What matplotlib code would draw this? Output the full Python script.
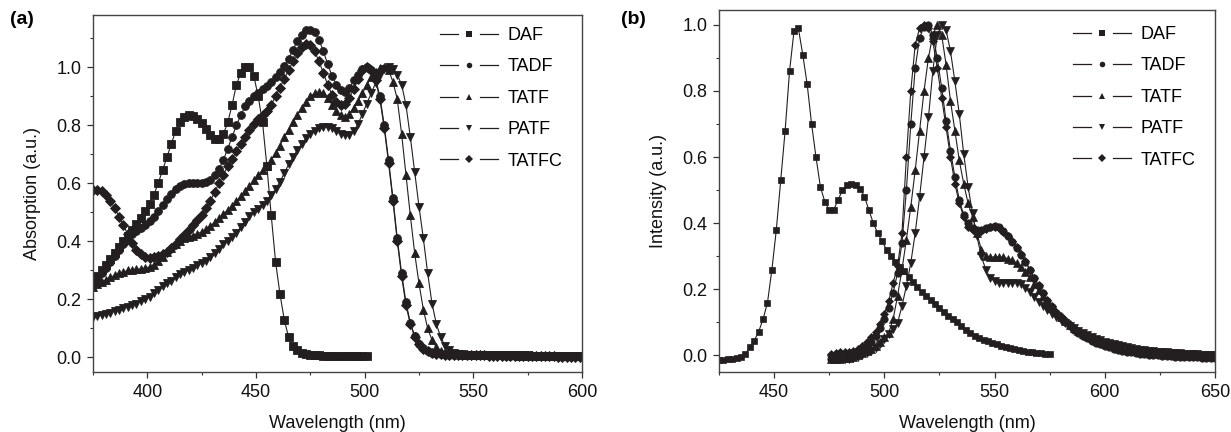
import numpy as np
import matplotlib
matplotlib.use("Agg")
import matplotlib.pyplot as plt
from matplotlib.lines import Line2D
from matplotlib.legend_handler import HandlerBase
from matplotlib.ticker import MultipleLocator

plt.rcParams['font.family'] = ['Liberation Sans', 'DejaVu Sans']

# ---------------- data: absorption (panel a) ----------------
abs_wl = np.arange(375, 600, 2)          # 375 ... 599
abs_wl_daf = np.arange(375, 502, 2)      # 375 ... 501

abs_daf = [
    0.265, 0.28, 0.30, 0.32, 0.34, 0.36, 0.38, 0.40, 0.42, 0.44,
    0.46, 0.48, 0.505, 0.53, 0.56, 0.60, 0.645, 0.69, 0.735, 0.78,
    0.81, 0.83, 0.835, 0.833, 0.823, 0.807, 0.787, 0.768, 0.753, 0.752,
    0.77, 0.81, 0.87, 0.94, 0.98, 1.0, 1.0, 0.97, 0.90, 0.81,
    0.66, 0.49, 0.33, 0.22, 0.13, 0.07, 0.04, 0.025, 0.016, 0.012,
    0.01, 0.008, 0.007, 0.006, 0.006, 0.005, 0.005, 0.005, 0.005, 0.004,
    0.004, 0.004, 0.004, 0.004]

abs_tadf = [
    0.25, 0.27, 0.29, 0.31, 0.33, 0.35, 0.37, 0.39, 0.41, 0.425,
    0.435, 0.445, 0.455, 0.47, 0.485, 0.505, 0.525, 0.545, 0.565, 0.58,
    0.59, 0.597, 0.60, 0.60, 0.60, 0.60, 0.603, 0.612, 0.628, 0.65,
    0.68, 0.72, 0.76, 0.80, 0.835, 0.865, 0.885, 0.90, 0.912, 0.925,
    0.935, 0.95, 0.965, 0.985, 1.005, 1.03, 1.06, 1.09, 1.11, 1.128,
    1.13, 1.12, 1.095, 1.055, 1.01, 0.97, 0.94, 0.92, 0.915, 0.93,
    0.955, 0.975, 0.993, 1.0, 0.99, 0.96, 0.90, 0.80, 0.68, 0.55,
    0.41, 0.29, 0.19, 0.12, 0.075, 0.048, 0.032, 0.022, 0.017, 0.014,
    0.012, 0.011, 0.010, 0.010, 0.009, 0.009, 0.009, 0.008, 0.008, 0.008,
    0.008, 0.007, 0.007, 0.007, 0.007, 0.006, 0.006, 0.006, 0.006, 0.006,
    0.005, 0.005, 0.005, 0.005, 0.005, 0.005, 0.004, 0.004, 0.004, 0.004,
    0.004, 0.004, 0.004]

abs_tatf = [
    0.244, 0.252, 0.26, 0.268, 0.276, 0.283, 0.29, 0.295, 0.30, 0.302,
    0.304, 0.306, 0.308, 0.312, 0.32, 0.332, 0.347, 0.362, 0.378, 0.392,
    0.403, 0.411, 0.416, 0.42, 0.426, 0.433, 0.442, 0.453, 0.466, 0.48,
    0.494, 0.508, 0.522, 0.538, 0.555, 0.572, 0.59, 0.61, 0.628, 0.645,
    0.66, 0.68, 0.705, 0.73, 0.76, 0.785, 0.81, 0.835, 0.86, 0.88,
    0.90, 0.91, 0.915, 0.91, 0.895, 0.87, 0.85, 0.835, 0.83, 0.84,
    0.86, 0.885, 0.91, 0.94, 0.965, 0.985, 0.998, 1.0, 0.99, 0.95,
    0.89, 0.77, 0.63, 0.49, 0.36, 0.255, 0.165, 0.10, 0.06, 0.035,
    0.024, 0.018, 0.014, 0.012, 0.011, 0.010, 0.010, 0.009, 0.009, 0.009,
    0.008, 0.008, 0.008, 0.008, 0.007, 0.007, 0.007, 0.007, 0.006, 0.006,
    0.006, 0.006, 0.006, 0.005, 0.005, 0.005, 0.005, 0.005, 0.005, 0.004,
    0.004, 0.004, 0.004]

abs_patf = [
    0.14, 0.143, 0.147, 0.15, 0.155, 0.16, 0.165, 0.17, 0.175, 0.18,
    0.186, 0.193, 0.20, 0.21, 0.222, 0.234, 0.245, 0.255, 0.265, 0.278,
    0.288, 0.295, 0.30, 0.31, 0.318, 0.325, 0.333, 0.345, 0.36, 0.375,
    0.39, 0.40, 0.415, 0.43, 0.45, 0.468, 0.486, 0.50, 0.513, 0.527,
    0.54, 0.56, 0.58, 0.605, 0.635, 0.665, 0.69, 0.715, 0.735, 0.755,
    0.77, 0.782, 0.79, 0.795, 0.795, 0.79, 0.78, 0.77, 0.765, 0.768,
    0.78, 0.805, 0.84, 0.875, 0.91, 0.945, 0.975, 0.993, 1.0, 0.995,
    0.975, 0.94, 0.87, 0.76, 0.64, 0.52, 0.41, 0.29, 0.185, 0.115,
    0.07, 0.04, 0.025, 0.017, 0.013, 0.011, 0.010, 0.010, 0.009, 0.009,
    0.009, 0.009, 0.008, 0.008, 0.008, 0.008, 0.007, 0.007, 0.007, 0.007,
    0.007, 0.006, 0.006, 0.006, 0.006, 0.006, 0.005, 0.005, 0.005, 0.005,
    0.005, 0.005, 0.005]

abs_tatfc = [
    0.577, 0.578, 0.573, 0.56, 0.54, 0.515, 0.485, 0.455, 0.425, 0.395,
    0.37, 0.355, 0.345, 0.342, 0.345, 0.35, 0.358, 0.365, 0.378, 0.392,
    0.407, 0.423, 0.44, 0.458, 0.475, 0.49, 0.515, 0.54, 0.57, 0.60,
    0.63, 0.66, 0.685, 0.71, 0.735, 0.76, 0.785, 0.805, 0.82, 0.835,
    0.85, 0.87, 0.90, 0.93, 0.96, 0.99, 1.02, 1.05, 1.07, 1.08,
    1.075, 1.055, 1.02, 0.98, 0.94, 0.905, 0.88, 0.87, 0.875, 0.895,
    0.925, 0.96, 0.99, 1.0, 0.99, 0.955, 0.89, 0.79, 0.67, 0.54,
    0.40, 0.28, 0.18, 0.115, 0.072, 0.045, 0.03, 0.021, 0.016, 0.013,
    0.011, 0.010, 0.009, 0.009, 0.008, 0.008, 0.008, 0.007, 0.007, 0.007,
    0.007, 0.006, 0.006, 0.006, 0.006, 0.005, 0.005, 0.005, 0.005, 0.005,
    0.005, 0.004, 0.004, 0.004, 0.004, 0.004, 0.004, 0.003, 0.003, 0.003,
    0.003, 0.003, 0.003]

# ---------------- data: emission (panel b) ----------------
em_wl_daf = np.arange(425, 576, 2)       # 425 ... 575
em_wl = np.arange(476, 651, 2)           # 476 ... 650

em_daf = [
    -0.013, -0.013, -0.012, -0.011, -0.009, -0.005, 0.005, 0.025, 0.045, 0.072,
    0.11, 0.16, 0.26, 0.38, 0.53, 0.68, 0.86, 0.98, 0.99, 0.91,
    0.82, 0.70, 0.60, 0.51, 0.465, 0.44, 0.44, 0.47, 0.50, 0.515,
    0.52, 0.517, 0.505, 0.48, 0.44, 0.40, 0.37, 0.345, 0.32, 0.30,
    0.283, 0.267, 0.254, 0.238, 0.222, 0.207, 0.193, 0.18, 0.167, 0.155,
    0.143, 0.131, 0.12, 0.11, 0.10, 0.09, 0.078, 0.067, 0.06, 0.054,
    0.048, 0.043, 0.038, 0.034, 0.03, 0.026, 0.023, 0.02, 0.016, 0.013,
    0.011, 0.009, 0.008, 0.006, 0.005, 0.004]

em_tadf = [
    -0.01, -0.01, -0.008, -0.006, -0.004, 0.0, 0.006, 0.015, 0.027, 0.042,
    0.06, 0.083, 0.11, 0.145, 0.19, 0.25, 0.34, 0.50, 0.70, 0.87,
    0.96, 0.995, 1.0, 0.97, 0.90, 0.81, 0.71, 0.62, 0.54, 0.47,
    0.425, 0.40, 0.385, 0.38, 0.38, 0.385, 0.39, 0.392, 0.388, 0.377,
    0.36, 0.342, 0.325, 0.305, 0.283, 0.258, 0.233, 0.21, 0.188, 0.166,
    0.146, 0.128, 0.114, 0.10, 0.088, 0.077, 0.068, 0.06, 0.052, 0.045,
    0.039, 0.034, 0.029, 0.025, 0.021, 0.017, 0.014, 0.011, 0.009, 0.007,
    0.005, 0.003, 0.002, 0.001, 0.0, -0.001, -0.002, -0.003, -0.004, -0.004,
    -0.005, -0.005, -0.006, -0.006, -0.007, -0.007, -0.008, -0.008]

em_tatf = [
    -0.01, -0.01, -0.01, -0.009, -0.007, -0.004, 0.0, 0.006, 0.013, 0.02,
    0.03, 0.042, 0.055, 0.068, 0.11, 0.18, 0.26, 0.35, 0.45, 0.56,
    0.68, 0.80, 0.90, 0.97, 1.0, 0.97, 0.88, 0.77, 0.68, 0.59,
    0.52, 0.46, 0.42, 0.37, 0.32, 0.30, 0.298, 0.298, 0.298, 0.297,
    0.293, 0.288, 0.28, 0.268, 0.253, 0.236, 0.217, 0.198, 0.18, 0.162,
    0.145, 0.13, 0.117, 0.104, 0.093, 0.083, 0.074, 0.066, 0.059, 0.052,
    0.046, 0.041, 0.036, 0.032, 0.028, 0.025, 0.022, 0.019, 0.017, 0.015,
    0.013, 0.011, 0.01, 0.009, 0.008, 0.007, 0.006, 0.005, 0.004, 0.004,
    0.003, 0.002, 0.002, 0.001, 0.001, 0.0, 0.0, -0.001]

em_patf = [
    -0.012, -0.012, -0.012, -0.011, -0.01, -0.008, -0.005, 0.0, 0.006, 0.013,
    0.022, 0.035, 0.05, 0.065, 0.08, 0.098, 0.15, 0.21, 0.28, 0.37,
    0.48, 0.60, 0.72, 0.86, 0.97, 1.0, 0.985, 0.92, 0.83, 0.73,
    0.61, 0.51, 0.43, 0.36, 0.30, 0.26, 0.235, 0.225, 0.22, 0.22,
    0.22, 0.22, 0.22, 0.215, 0.205, 0.192, 0.178, 0.163, 0.149, 0.137,
    0.126, 0.116, 0.107, 0.098, 0.09, 0.082, 0.075, 0.068, 0.062, 0.056,
    0.051, 0.046, 0.042, 0.038, 0.034, 0.031, 0.028, 0.025, 0.022, 0.02,
    0.018, 0.016, 0.014, 0.013, 0.011, 0.01, 0.009, 0.008, 0.007, 0.006,
    0.005, 0.004, 0.003, 0.003, 0.002, 0.001, 0.001, 0.0]

em_tatfc = [
    0.005, 0.008, 0.01, 0.01, 0.012, 0.015, 0.02, 0.028, 0.04, 0.055,
    0.072, 0.095, 0.125, 0.165, 0.22, 0.27, 0.37, 0.60, 0.80, 0.94,
    0.99, 1.0, 0.99, 0.95, 0.87, 0.78, 0.69, 0.60, 0.52, 0.46,
    0.42, 0.39, 0.38, 0.375, 0.378, 0.383, 0.388, 0.39, 0.385, 0.372,
    0.36, 0.345, 0.328, 0.308, 0.285, 0.26, 0.235, 0.212, 0.19, 0.168,
    0.149, 0.133, 0.12, 0.106, 0.094, 0.084, 0.075, 0.066, 0.058, 0.051,
    0.045, 0.04, 0.035, 0.03, 0.026, 0.022, 0.019, 0.016, 0.014, 0.012,
    0.01, 0.008, 0.007, 0.006, 0.005, 0.004, 0.003, 0.002, 0.002, 0.001,
    0.001, 0.0, 0.0, -0.001, -0.001, -0.002, -0.002, -0.003]

labels = ["DAF", "TADF", "TATF", "PATF", "TATFC"]
markers = ["s", "o", "^", "v", "D"]

C = "#231f20"
FS = 13


class GapLineHandler(HandlerBase):
    def create_artists(self, legend, orig_handle, xdescent, ydescent,
                       width, height, fontsize, trans):
        y = height / 2.0 - ydescent
        x0 = -xdescent
        mid = x0 + width / 2.0
        g = 0.19 * width
        l1 = Line2D([x0, mid - g], [y, y], color=C, lw=0.9)
        l2 = Line2D([mid + g, x0 + width], [y, y], color=C, lw=0.9)
        mk = Line2D([mid], [y], marker=orig_handle.get_marker(),
                    markersize=4.0, color=C, linestyle="none",
                    markeredgewidth=0)
        for a in (l1, l2, mk):
            a.set_transform(trans)
        return [l1, l2, mk]


fig = plt.figure(figsize=(12.31, 4.32), dpi=100)
W, H = 1231.0, 432.0
ax1 = fig.add_axes([93 / W, 60 / H, (582 - 93) / W, (372 - 15) / H])
ax2 = fig.add_axes([719 / W, 60 / H, (1215 - 719) / W, (372 - 10) / H])

abs_series = [(abs_wl_daf, abs_daf), (abs_wl, abs_tadf), (abs_wl, abs_tatf),
              (abs_wl, abs_patf), (abs_wl, abs_tatfc)]
em_series = [(em_wl_daf, em_daf), (em_wl, em_tadf), (em_wl, em_tatf),
             (em_wl, em_patf), (em_wl, em_tatfc)]

MS = {"s": 5.2, "o": 5.6, "^": 6.0, "v": 6.0, "D": 4.8}

handles = []
for (x, y), lab, m in zip(abs_series, labels, markers):
    h, = ax1.plot(x, y, color=C, lw=0.8, marker=m, markersize=MS[m],
                  markeredgewidth=0.6, markeredgecolor=C, label=lab)
    handles.append(h)
for (x, y), lab, m in zip(em_series, labels, markers):
    ax2.plot(x, y, color=C, lw=0.8, marker=m, markersize=MS[m] * 0.95,
             markeredgewidth=0.5, markeredgecolor=C, label=lab)

ax1.set_xlim(375, 600)
ax1.set_ylim(-0.05, 1.18)
ax2.set_xlim(425, 650)
ax2.set_ylim(-0.05, 1.045)

for ax in (ax1, ax2):
    ax.xaxis.set_major_locator(MultipleLocator(50))
    ax.xaxis.set_minor_locator(MultipleLocator(25))
    ax.yaxis.set_major_locator(MultipleLocator(0.2))
    ax.yaxis.set_minor_locator(MultipleLocator(0.1))
    ax.tick_params(which="both", direction="out", top=False, right=False,
                   color="#333333", labelsize=FS, labelcolor="#111111")
    ax.tick_params(which="major", length=4.5, width=0.9, pad=4)
    ax.tick_params(which="minor", length=2.5, width=0.8)
    for s in ax.spines.values():
        s.set_color("#444444")
        s.set_linewidth(1.0)
    ax.set_xlabel("Wavelength (nm)", fontsize=FS, labelpad=10, color="#111111")

ax1.set_ylabel("Absorption (a.u.)", fontsize=FS, labelpad=11, color="#111111")
ax2.set_ylabel("Intensity (a.u.)", fontsize=FS, labelpad=11, color="#111111")

hm = {Line2D: GapLineHandler()}
for ax, (lx, ly) in ((ax1, (440 / W, 1 - 27 / H)), (ax2, (1073 / W, 1 - 26 / H))):
    ax.legend(handles=handles, labels=labels, handler_map=hm, loc="upper left",
              bbox_to_anchor=(lx, ly), bbox_transform=fig.transFigure,
              frameon=False, fontsize=FS, handlelength=3.2,
              handletextpad=0.55, labelspacing=0.8, borderpad=0,
              borderaxespad=0)

fig.text(10 / W, 1 - 20 / H, "(a)", fontsize=14, fontweight="bold",
         va="center", ha="left")
fig.text(621 / W, 1 - 20 / H, "(b)", fontsize=14, fontweight="bold",
         va="center", ha="left")

fig.savefig("out.png", dpi=100)
